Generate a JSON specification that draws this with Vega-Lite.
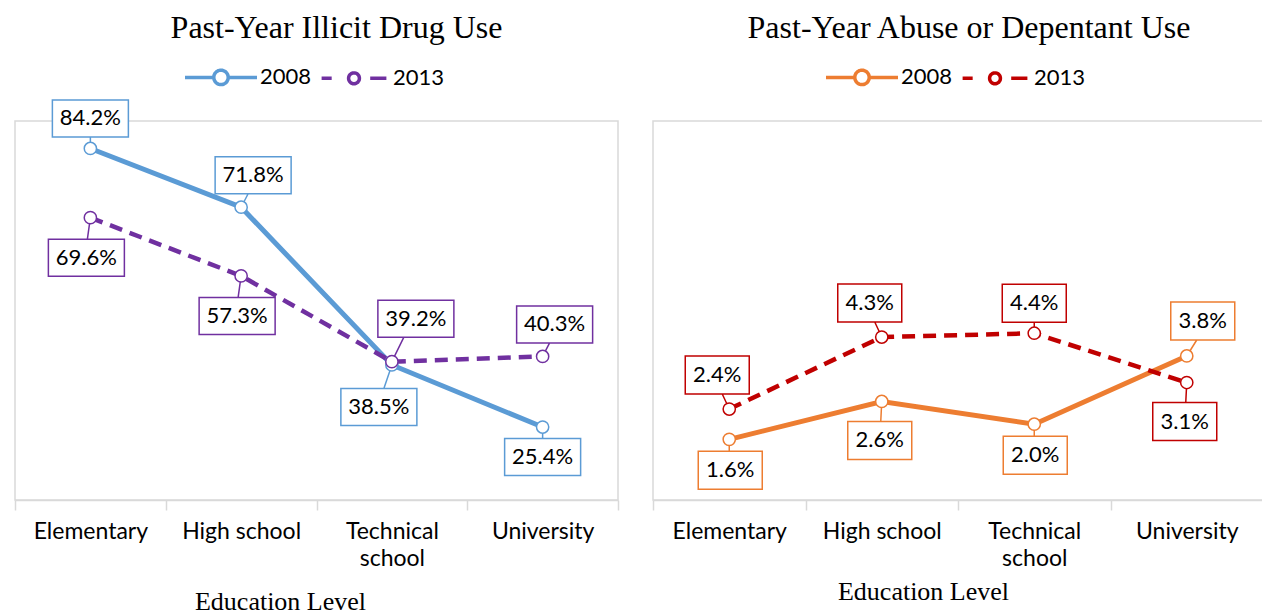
{
  "$schema": "https://vega.github.io/schema/vega-lite/v6.json",
  "padding": {"left": 13, "top": 11, "right": 0, "bottom": 0},
  "spacing": 31,
  "background": "white",
  "config": {
    "view": {"stroke": "#d9d9d9", "strokeWidth": 1.5},
    "font": "Lato",
    "title": {"font": "Liberation Serif", "fontSize": 32, "fontWeight": "normal", "color": "#000000", "offset": -6},
    "axisX": {
      "domainColor": "#d9d9d9", "domainWidth": 1.5, "tickColor": "#d9d9d9", "tickWidth": 1.5, "tickSize": 10,
      "tickBand": "extent", "labelAngle": 0, "labelFont": "Lato", "labelFontSize": 23, "labelColor": "#000000",
      "labelPadding": 10, "labelLineHeight": 27, "grid": false,
      "titleFont": "Liberation Serif", "titleFontSize": 26, "titleFontWeight": "normal", "titleColor": "#000000",
      "labelExpr": "datum.label == 'Technical school' ? ['Technical', 'school'] : datum.label"
    },
    "legend": {"labelFont": "Lato", "labelFontSize": 22, "labelColor": "#000000", "symbolSize": 5184, "symbolStrokeWidth": 3.5, "symbolDash": [1, 0], "labelOffset": 1, "columnPadding": 2}
  },
  "datasets": {
    "illicit": [
      {"level": "Elementary", "year": "2008", "value": 0.842, "placement": "above"},
      {"level": "High school", "year": "2008", "value": 0.718, "placement": "aboveRight"},
      {"level": "Technical school", "year": "2008", "value": 0.385, "placement": "belowLeft"},
      {"level": "University", "year": "2008", "value": 0.254, "placement": "below"},
      {"level": "Elementary", "year": "2013", "value": 0.696, "placement": "farBelow"},
      {"level": "High school", "year": "2013", "value": 0.573, "placement": "farBelow"},
      {"level": "Technical school", "year": "2013", "value": 0.392, "placement": "farAboveRight"},
      {"level": "University", "year": "2013", "value": 0.403, "placement": "aboveRight"}
    ],
    "abuse": [
      {"level": "Elementary", "year": "2008", "value": 0.016, "placement": "below"},
      {"level": "High school", "year": "2008", "value": 0.026, "placement": "farBelow"},
      {"level": "Technical school", "year": "2008", "value": 0.020, "placement": "below"},
      {"level": "University", "year": "2008", "value": 0.038, "placement": "aboveRight"},
      {"level": "Elementary", "year": "2013", "value": 0.024, "placement": "aboveLeft"},
      {"level": "High school", "year": "2013", "value": 0.043, "placement": "aboveLeft"},
      {"level": "Technical school", "year": "2013", "value": 0.044, "placement": "above"},
      {"level": "University", "year": "2013", "value": 0.031, "placement": "farBelow"}
    ]
  },
  "hconcat": [
    {
      "width": 603,
      "height": 379,
      "title": {"text": "Past-Year Illicit Drug Use", "dx": 20},
      "data": {"name": "illicit"},
      "encoding": {
        "x": {"field": "level", "type": "nominal", "sort": ["Elementary", "High school", "Technical school", "University"],
          "scale": {"type": "band", "paddingInner": 0, "paddingOuter": 0},
          "axis": {"title": "Education Level", "titleX": 265, "titlePadding": 18}},
        "y": {"field": "value", "type": "quantitative", "scale": {"domain": [0.1, 0.9]}, "axis": null}
      },
      "layer": [
        {
          "transform": [{"filter": "datum.year == '2008'"}],
          "mark": {"type": "line", "strokeWidth": 5},
          "encoding": {
            "color": {"field": "year", "type": "nominal", "scale": {"domain": ["2008", "2013"], "range": ["#5B9BD5", "#7030A0"]},
              "legend": {"title": null, "orient": "none", "direction": "horizontal", "legendX": 168, "legendY": -82,
                "encode": {"symbols": {"update": {
                  "shape": {"signal": "datum.value == '2008' ? 'M-1,0L-0.2,0M0.2,0L1,0M0.2,0A0.2,0.2,0,1,1,-0.2,0A0.2,0.2,0,1,1,0.2,0Z' : 'M-0.9,0L-0.62,0M0.15,0A0.15,0.15,0,1,1,-0.15,0A0.15,0.15,0,1,1,0.15,0ZM0.45,0L0.9,0'"},
                  "fill": {"value": "white"}}}}}}
          }
        },
        {
          "transform": [{"filter": "datum.year == '2013'"}],
          "mark": {"type": "line", "strokeWidth": 4.5, "strokeDash": [13, 8]},
          "encoding": {
            "color": {"field": "year", "type": "nominal"}
          }
        },
        {
          "mark": {"type": "point", "size": 4, "filled": true, "fill": "white", "strokeWidth": 1.5, "opacity": 1},
          "encoding": {
            "shape": {"field": "placement", "type": "nominal", "legend": null,
              "scale": {"domain": ["above", "aboveRight", "farAboveRight", "aboveLeft", "below", "farBelow", "belowLeft"],
                "range": [
                  "M-38,-48.5H38V-11.5H-38ZM0,0L0,-11.5",
                  "M-26,-50.5H50V-13.5H-26ZM0,0L7,-13.5",
                  "M-14,-61.5H62V-24.5H-14ZM0,0L12,-24.5",
                  "M-50,-52.5H26V-15.5H-50ZM0,0L-7,-15.5",
                  "M-38,11.5H38V48.5H-38ZM0,0L0,11.5",
                  "M-42,21.5H34V58.5H-42ZM0,0L-3,21.5",
                  "M-51,23.5H25V60.5H-51ZM0,0L-8,23.5"
                ]}},
            "stroke": {"field": "year", "type": "nominal", "scale": {"domain": ["2008", "2013"], "range": ["#5B9BD5", "#7030A0"]}, "legend": null}
          }
        },
        {
          "mark": {"type": "point", "shape": "circle", "size": 150, "filled": true, "fill": "white", "strokeWidth": 1.5, "opacity": 1},
          "encoding": {
            "stroke": {"field": "year", "type": "nominal", "scale": {"domain": ["2008", "2013"], "range": ["#5B9BD5", "#7030A0"]}, "legend": null}
          }
        },
        {
          "mark": {"type": "text", "fontSize": 22, "color": "#000000", "align": "center", "baseline": "middle",
            "dx": {"expr": "datum.placement == 'aboveRight' ? 12 : datum.placement == 'farAboveRight' ? 24 : datum.placement == 'aboveLeft' ? -12 : datum.placement == 'farBelow' ? -4 : datum.placement == 'belowLeft' ? -13 : 0"},
            "dy": {"expr": "datum.placement == 'above' ? -30 : datum.placement == 'aboveRight' ? -32 : datum.placement == 'farAboveRight' ? -43 : datum.placement == 'aboveLeft' ? -34 : datum.placement == 'below' ? 30 : datum.placement == 'farBelow' ? 40 : 42"}},
          "encoding": {"text": {"field": "value", "type": "quantitative", "format": ".1%"}}
        }
      ]
    },
    {
      "width": 610,
      "height": 379,
      "title": {"text": "Past-Year Abuse or Depentant Use", "dx": 11},
      "data": {"name": "abuse"},
      "encoding": {
        "x": {"field": "level", "type": "nominal", "sort": ["Elementary", "High school", "Technical school", "University"],
          "scale": {"type": "band", "paddingInner": 0, "paddingOuter": 0},
          "axis": {"title": "Education Level", "titleX": 270, "titlePadding": 8}},
        "y": {"field": "value", "type": "quantitative", "scale": {"domain": [0, 0.1]}, "axis": null}
      },
      "layer": [
        {
          "transform": [{"filter": "datum.year == '2008'"}],
          "mark": {"type": "line", "strokeWidth": 5},
          "encoding": {
            "color": {"field": "year", "type": "nominal", "scale": {"domain": ["2008", "2013"], "range": ["#ED7D31", "#C00000"]},
              "legend": {"title": null, "orient": "none", "direction": "horizontal", "legendX": 171, "legendY": -82,
                "encode": {"symbols": {"update": {
                  "shape": {"signal": "datum.value == '2008' ? 'M-1,0L-0.2,0M0.2,0L1,0M0.2,0A0.2,0.2,0,1,1,-0.2,0A0.2,0.2,0,1,1,0.2,0Z' : 'M-0.9,0L-0.62,0M0.15,0A0.15,0.15,0,1,1,-0.15,0A0.15,0.15,0,1,1,0.15,0ZM0.45,0L0.9,0'"},
                  "fill": {"value": "white"}}}}}}
          }
        },
        {
          "transform": [{"filter": "datum.year == '2013'"}],
          "mark": {"type": "line", "strokeWidth": 4.5, "strokeDash": [13, 8]},
          "encoding": {
            "color": {"field": "year", "type": "nominal"}
          }
        },
        {
          "mark": {"type": "point", "size": 4, "filled": true, "fill": "white", "strokeWidth": 1.5, "opacity": 1},
          "encoding": {
            "shape": {"field": "placement", "type": "nominal", "legend": null,
              "scale": {"domain": ["above", "aboveRight", "aboveLeft", "below", "farBelow"],
                "range": [
                  "M-32,-49H32V-11H-32ZM0,0L0,-11",
                  "M-16,-54H48V-16H-16ZM0,0L10,-16",
                  "M-44,-53H20V-15H-44ZM0,0L-7,-15",
                  "M-31,12H33V50H-31ZM0,0L0,12",
                  "M-34,20H30V58H-34ZM0,0L-1,20"
                ]}},
            "stroke": {"field": "year", "type": "nominal", "scale": {"domain": ["2008", "2013"], "range": ["#ED7D31", "#C00000"]}, "legend": null}
          }
        },
        {
          "mark": {"type": "point", "shape": "circle", "size": 150, "filled": true, "fill": "white", "strokeWidth": 1.5, "opacity": 1},
          "encoding": {
            "stroke": {"field": "year", "type": "nominal", "scale": {"domain": ["2008", "2013"], "range": ["#ED7D31", "#C00000"]}, "legend": null}
          }
        },
        {
          "mark": {"type": "text", "fontSize": 22, "color": "#000000", "align": "center", "baseline": "middle",
            "dx": {"expr": "datum.placement == 'aboveRight' ? 16 : datum.placement == 'aboveLeft' ? -12 : datum.placement == 'farBelow' ? -2 : datum.placement == 'below' ? 1 : 0"},
            "dy": {"expr": "datum.placement == 'above' ? -30 : datum.placement == 'aboveRight' ? -35 : datum.placement == 'aboveLeft' ? -34 : datum.placement == 'below' ? 31 : 39"}},
          "encoding": {"text": {"field": "value", "type": "quantitative", "format": ".1%"}}
        }
      ]
    }
  ],
  "resolve": {"scale": {"color": "independent", "stroke": "independent", "shape": "independent", "x": "independent", "y": "independent"}, "legend": {"color": "independent"}}
}
